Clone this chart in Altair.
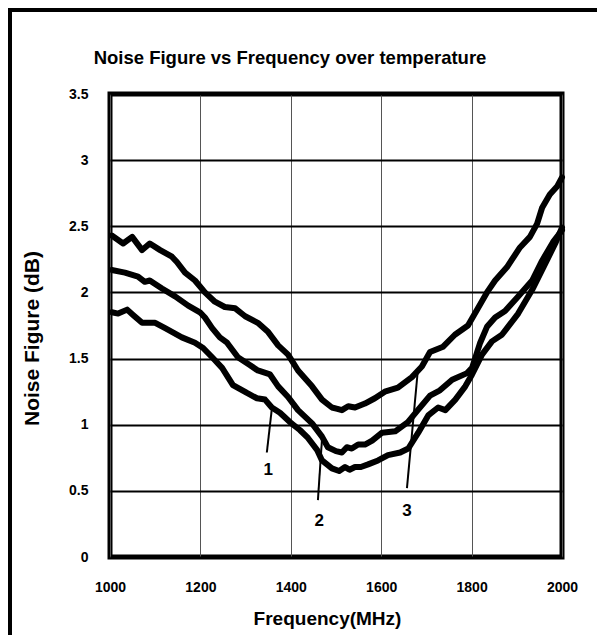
import altair as alt
import pandas as pd

# Curve 1 (lowest)
freq_1 = [1004, 1018, 1038, 1051, 1071, 1100, 1122, 1159, 1188, 1206, 1226, 1248, 1272, 1303, 1325, 1343,
          1358, 1376, 1398, 1420, 1438, 1458, 1469, 1491, 1507, 1520, 1530, 1542, 1555, 1571, 1593, 1615,
          1642, 1660, 1682, 1704, 1726, 1742, 1764, 1786, 1801, 1823, 1845, 1867, 1903, 1934, 1956, 1985, 2000]
nf_1 = [1.85, 1.84, 1.87, 1.83, 1.77, 1.77, 1.73, 1.66, 1.62, 1.58, 1.51, 1.43, 1.30, 1.24, 1.20, 1.19,
        1.13, 1.09, 1.02, 0.96, 0.90, 0.81, 0.73, 0.67, 0.65, 0.68, 0.66, 0.68, 0.68, 0.70, 0.73, 0.77,
        0.79, 0.82, 0.94, 1.07, 1.13, 1.11, 1.19, 1.29, 1.38, 1.53, 1.63, 1.68, 1.84, 2.02, 2.17, 2.37, 2.49]

# Curve 2 (middle)
freq_2 = [1004, 1033, 1062, 1077, 1088, 1115, 1144, 1173, 1199, 1210, 1226, 1243, 1259, 1283, 1310, 1327,
          1354, 1372, 1394, 1416, 1447, 1469, 1482, 1500, 1513, 1524, 1535, 1549, 1564, 1580, 1602, 1631,
          1659, 1681, 1708, 1730, 1757, 1790, 1801, 1819, 1834, 1852, 1874, 1903, 1934, 1956, 1980, 2000]
nf_2 = [2.17, 2.15, 2.12, 2.08, 2.09, 2.03, 1.97, 1.90, 1.85, 1.81, 1.73, 1.66, 1.62, 1.51, 1.45, 1.41,
        1.38, 1.29, 1.21, 1.11, 1.01, 0.91, 0.83, 0.80, 0.79, 0.83, 0.82, 0.85, 0.85, 0.88, 0.94, 0.95,
        1.02, 1.11, 1.22, 1.26, 1.34, 1.39, 1.43, 1.62, 1.74, 1.81, 1.86, 1.97, 2.09, 2.24, 2.38, 2.47]

# Curve 3 (top)
freq_3 = [1004, 1029, 1049, 1071, 1088, 1111, 1137, 1148, 1166, 1188, 1210, 1232, 1254, 1277, 1299, 1327,
          1350, 1372, 1394, 1416, 1447, 1469, 1491, 1503, 1513, 1527, 1542, 1564, 1586, 1608, 1637, 1668,
          1690, 1708, 1737, 1763, 1792, 1814, 1834, 1852, 1878, 1907, 1929, 1945, 1956, 1973, 1989, 2000]
nf_3 = [2.43, 2.37, 2.42, 2.32, 2.37, 2.32, 2.27, 2.23, 2.15, 2.09, 2.00, 1.93, 1.89, 1.88, 1.82, 1.77,
        1.70, 1.60, 1.53, 1.41, 1.29, 1.19, 1.13, 1.12, 1.11, 1.14, 1.13, 1.16, 1.20, 1.25, 1.28, 1.36,
        1.44, 1.55, 1.59, 1.68, 1.75, 1.88, 2.00, 2.09, 2.19, 2.34, 2.42, 2.52, 2.64, 2.74, 2.80, 2.87]

# Curve labels and leader lines
label_text = ["1", "2", "3"]
label_x = [1350, 1463, 1657]
label_y = [0.66, 0.27, 0.35]
lead_x1 = [1358, 1469, 1681]
lead_y1 = [1.12, 0.89, 1.41]
lead_x2 = [1347, 1460, 1657]
lead_y2 = [0.79, 0.43, 0.52]

x_ticks = [1000, 1200, 1400, 1600, 1800, 2000]
y_ticks = [0, 0.5, 1, 1.5, 2, 2.5, 3, 3.5]

rows = []
for name, fs, vs in [("1", freq_1, nf_1), ("2", freq_2, nf_2), ("3", freq_3, nf_3)]:
    for i, (f, v) in enumerate(zip(fs, vs)):
        rows.append({"curve": name, "idx": i, "freq": f, "nf": v})
df = pd.DataFrame(rows)

labels_df = pd.DataFrame({"t": label_text, "x": label_x, "y": label_y})
lead_df = pd.DataFrame({"x1": lead_x1, "y1": lead_y1, "x2": lead_x2, "y2": lead_y2})

FONT = "Liberation Sans"
xs = alt.Scale(domain=[1000, 2000], nice=False, zero=False)
ys = alt.Scale(domain=[0, 3.5], nice=False)

lines = alt.Chart(df).mark_line(
    color="black", strokeWidth=6, strokeJoin="round", strokeCap="round"
).encode(
    x=alt.X("freq:Q", scale=xs, axis=alt.Axis(
        values=x_ticks, format="d", title="Frequency(MHz)",
        grid=True, gridColor="#555555", gridWidth=1, domain=False, ticks=False,
        labelFont=FONT, labelFontSize=14, labelFontWeight="bold", labelColor="black",
        labelPadding=23, labelFlush=False,
        titleFont=FONT, titleFontSize=19, titleFontWeight="bold", titleColor="black",
        titleBaseline="alphabetic", titleY=67, titleX=217,
    )),
    y=alt.Y("nf:Q", scale=ys, axis=alt.Axis(
        values=y_ticks, format="~g", title="Noise Figure (dB)",
        grid=True, gridColor="black", gridWidth=2, domain=False, ticks=False,
        labelFont=FONT, labelFontSize=14, labelFontWeight="bold", labelColor="black",
        labelPadding=22,
        titleFont=FONT, titleFontSize=21, titleFontWeight="bold", titleColor="black",
        titleX=-72, titleY=244, titleBaseline="alphabetic",
    )),
    detail="curve:N",
    order="idx:Q",
)

leaders = alt.Chart(lead_df).mark_rule(color="black", strokeWidth=2).encode(
    x=alt.X("x1:Q", scale=xs), y=alt.Y("y1:Q", scale=ys),
    x2="x2:Q", y2="y2:Q",
)

texts = alt.Chart(labels_df).mark_text(
    font=FONT, fontSize=17, fontWeight="bold", color="black"
).encode(
    x=alt.X("x:Q", scale=xs), y=alt.Y("y:Q", scale=ys), text="t:N"
)

one = pd.DataFrame({"a": [0]})
outer_frame = alt.Chart(one).mark_rect(
    fill="white", fillOpacity=0, stroke="black", strokeWidth=4
).encode(
    x=alt.value(-100), x2=alt.value(520), y=alt.value(-84), y2=alt.value(560)
)

chart = alt.layer(outer_frame, lines, leaders, texts).properties(
    width=452,
    height=463,
    autosize=alt.AutoSizeParams(type="none"),
    padding={"left": 102, "top": 86, "right": 35, "bottom": 78},
    background="white",
    title=alt.Title(
        "Noise Figure vs Frequency over temperature",
        font=FONT, fontSize=18.5, fontWeight="bold", color="black",
        anchor="middle", dx=-46, offset=-74, frame="group", baseline="alphabetic",
    ),
).configure_view(
    stroke="black", strokeWidth=5
)

chart.save("out.html", embed_options={"renderer": "svg", "actions": False})
